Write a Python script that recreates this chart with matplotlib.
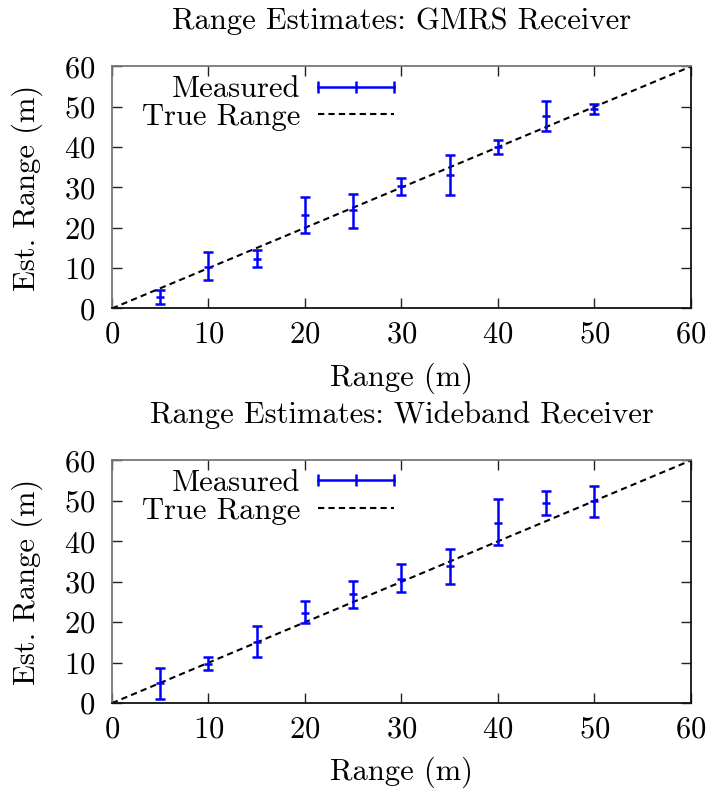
import matplotlib
matplotlib.use("Agg")
import matplotlib.pyplot as plt
from matplotlib.lines import Line2D

plt.rcParams['font.family'] = ['cmr10', 'DejaVu Serif']
plt.rcParams['axes.formatter.use_mathtext'] = True
plt.rcParams['font.size'] = 22

# true range (m)
rng = [5, 10, 15, 20, 25, 30, 35, 40, 45, 50]

# GMRS receiver: estimate, low end, high end of error bar
gmrs_est = [2.9, 10.4, 12.3, 23.1, 24.4, 30.4, 33.1, 40.0, 47.7, 49.5]
gmrs_lo = [1.2, 7.0, 10.2, 18.7, 20.0, 28.2, 28.2, 38.3, 44.1, 48.2]
gmrs_hi = [4.5, 14.1, 14.5, 27.7, 28.5, 32.4, 38.0, 41.7, 51.5, 50.8]

# Wideband receiver
wb_est = [4.9, 9.7, 15.2, 22.4, 26.9, 30.8, 33.9, 44.6, 49.5, 49.9]
wb_lo = [1.1, 8.1, 11.5, 19.7, 23.4, 27.5, 29.5, 39.1, 46.6, 46.0]
wb_hi = [8.6, 11.3, 19.1, 25.3, 30.3, 34.4, 38.0, 50.4, 52.4, 53.7]

truth = [0, 60]
ticks = [0, 10, 20, 30, 40, 50, 60]

blue = "#0000ff"
dash = (0, (3.0, 2.0))

fig = plt.figure(figsize=(7.08, 7.91), dpi=100)
ax1 = fig.add_axes([0.158, 0.610, 0.818, 0.306])
ax2 = fig.add_axes([0.158, 0.111, 0.818, 0.307])


def panel(ax, est, lo, hi, title):
    yerr = [[e - l for e, l in zip(est, lo)], [h - e for e, h in zip(est, hi)]]
    ax.errorbar(rng, est, yerr=yerr, fmt="_", color=blue, ms=6, mew=1.8,
                elinewidth=1.8, capsize=3.5, capthick=1.8, zorder=3)
    ax.plot(truth, truth, color="black", ls=dash, lw=1.5, zorder=2)
    ax.set_xlim(0, 60)
    ax.set_ylim(0, 60)
    ax.set_xticks(ticks)
    ax.set_yticks(ticks)
    ax.tick_params(direction="in", length=7, width=1, top=True, right=True,
                   colors="#222222", labelcolor="black")
    ax.tick_params(axis="x", pad=9)
    ax.tick_params(axis="y", pad=12)
    ax.spines["top"].set_color("#777777")
    ax.spines["left"].set_color("#777777")
    ax.spines["bottom"].set_color("#111111")
    ax.spines["right"].set_color("#111111")
    for s in ax.spines.values():
        s.set_linewidth(1.3)
    ax.set_xlabel("Range (m)", labelpad=10)
    ax.set_ylabel("Est. Range (m)", labelpad=15)
    ax.set_title(title, fontsize=22, pad=27)

    meas = Line2D([], [], color=blue, lw=1.8, marker="|", ms=8, mew=1.8)
    true_h = Line2D([], [], color="black", ls=dash, lw=1.5)
    leg = ax.legend([meas, true_h], ["Measured", "True Range"], loc="upper left",
                    bbox_to_anchor=(0.031, 1.012), frameon=False, markerfirst=False,
                    numpoints=3, handlelength=3.1, handletextpad=0.26,
                    labelspacing=0.0, borderaxespad=0)
    for col in leg._legend_handle_box.get_children():
        col.align = "right"


panel(ax1, gmrs_est, gmrs_lo, gmrs_hi, "Range Estimates: GMRS Receiver")
panel(ax2, wb_est, wb_lo, wb_hi, "Range Estimates: Wideband Receiver")

fig.savefig("out.png", dpi=100)
